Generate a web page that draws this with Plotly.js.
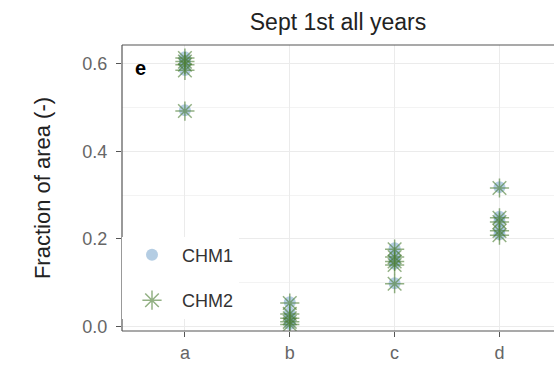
<!DOCTYPE html>
<html><head><meta charset="utf-8">
<script src="https://cdn.plot.ly/plotly-3.0.1.min.js"></script>
<style>html,body{margin:0;padding:0;background:#fff;overflow:hidden}#chart{width:554px;height:365px}</style>
</head><body><div id="chart"></div>
<script>
const chm1X = ['a','a','a','a','a','b','b','b','b','b','c','c','c','c','c','d','d','d','d','d'];
const chm1Y = [0.615,0.607,0.600,0.586,0.494, 0.055,0.030,0.020,0.012,0.005, 0.178,0.160,0.150,0.143,0.098, 0.318,0.250,0.240,0.220,0.210];
const chm2X = ['a','a','a','a','a','b','b','b','b','b','c','c','c','c','c','d','d','d','d','d'];
const chm2Y = [0.613,0.605,0.598,0.585,0.492, 0.053,0.028,0.018,0.010,0.004, 0.176,0.158,0.148,0.140,0.097, 0.316,0.248,0.238,0.218,0.208];
const categories = ['a','b','c','d'];
const yTicks = [0.0,0.2,0.4,0.6];
const yTickLabels = ['0.0','0.2','0.4','0.6'];

const font = 'Liberation Sans, Arial, sans-serif';
const traces = [
  {x: chm1X, y: chm1Y, type:'scatter', mode:'markers', name:'CHM1', legendgroup:'g1',
   marker:{symbol:'circle', size:12, color:'rgba(130,172,208,0.6)'}},
  {x: chm2X, y: chm2Y, type:'scatter', mode:'markers', name:'CHM2', legendgroup:'g2',
   marker:{symbol:'asterisk-open', size:16, color:'rgba(75,125,50,0.6)', line:{width:1.5, color:'rgba(75,125,50,0.6)'}}}
];
const bc = '#555';
const layout = {
  width:554, height:365,
  margin:{l:122, r:0, t:45, b:34},
  paper_bgcolor:'#fff', plot_bgcolor:'#fff',
  font:{family:font, color:'#4d4d4d'},
  title:{text:'Sept 1st all years', font:{size:23, color:'#222', family:font}, x:0.5, xref:'paper', y:0.94, yanchor:'middle'},
  xaxis:{type:'category', categoryorder:'array', categoryarray:categories, range:[-0.6, 3.52],
    showgrid:true, gridcolor:'#ebebeb', gridwidth:1, zeroline:false, showline:false,
    ticks:'outside', ticklen:5, tickcolor:bc, tickfont:{size:18, color:'#666'}},
  yaxis:{range:[-0.011, 0.643], tickvals:yTicks, ticktext:yTickLabels,
    showgrid:true, gridcolor:'#ebebeb', gridwidth:1, zeroline:false, showline:false,
    minor:{dtick:0.1, tick0:0, showgrid:true, gridcolor:'#f3f3f3', gridwidth:1, ticks:''},
    ticks:'outside', ticklen:5, tickcolor:bc, tickfont:{size:18, color:'#666'}, ticklabelstandoff:5,
    title:{text:'Fraction of area (-)', font:{size:22, color:'#222'}, standoff:25}},
  legend:{x:0.0, y:0.33, xanchor:'left', yanchor:'top', bgcolor:'#fff', borderwidth:0,
    font:{size:18, color:'#333'}, tracegroupgap:19, traceorder:'grouped', itemwidth:50},
  showlegend:true,
  shapes:[
    {type:'line', xref:'paper', yref:'paper', x0:0, x1:0, y0:0, y1:1, line:{color:bc, width:1.2}},
    {type:'line', xref:'paper', yref:'paper', x0:0, x1:1, y0:1, y1:1, line:{color:bc, width:1.2}},
    {type:'line', xref:'paper', yref:'paper', x0:0, x1:1, y0:0, y1:0, line:{color:bc, width:1.2}}
  ],
  annotations:[{text:'<b>e</b>', xref:'paper', yref:'paper', x:0.025, y:0.92, showarrow:false, xanchor:'left', yanchor:'middle', font:{size:20, color:'#000'}}]
};
Plotly.newPlot('chart', traces, layout, {displayModeBar:false});
</script></body></html>
